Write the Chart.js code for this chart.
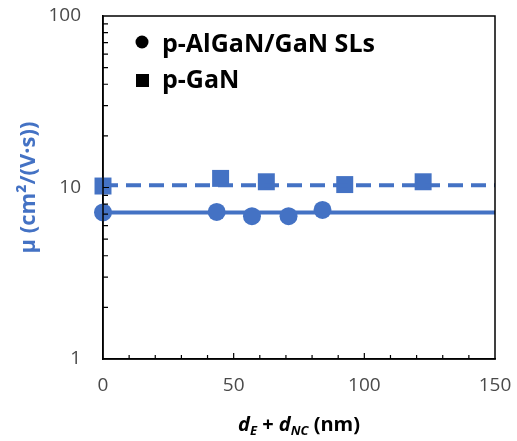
<!DOCTYPE html>
<html>
<head>
<meta charset="utf-8">
<script src="https://cdn.jsdelivr.net/npm/chart.js@4/dist/chart.umd.min.js"></script>
<style>
  html, body { margin: 0; padding: 0; background: #fff; }
  #wrap { width: 517px; height: 441px; }
</style>
</head>
<body>
<div id="wrap"><canvas id="c" width="517" height="441"></canvas></div>
<script>
// data
const slX = [0, 43.5, 57, 71, 84];
const slMu = [7.15, 7.2, 6.8, 6.8, 7.4];
const ganX = [0, 45, 62.5, 92.5, 122.5];
const ganMu = [10.2, 11.3, 10.8, 10.4, 10.8];
const fitX = [0, 150];
const slFit = [7.15, 7.15];
const ganFit = [10.3, 10.3];
const yTicks = [1, 10, 100];
const legendNames = ['p-AlGaN/GaN SLs', 'p-GaN'];

const BLUE = '#4472C4';
const pts = (xs, ys) => xs.map((x, i) => ({x: x, y: ys[i]}));

// frame, inward ticks, legend, x title
const decor = {
  id: 'decor',
  afterDatasetsDraw(chart) {
    const {ctx, chartArea: a, scales: {x, y}} = chart;
    ctx.save();
    ctx.strokeStyle = '#000';
    ctx.lineWidth = 1.5;
    ctx.strokeRect(a.left, a.top, a.right - a.left, a.bottom - a.top);
    ctx.lineWidth = 1.2;
    ctx.beginPath();
    for (let v = 10; v < 150; v += 10) {
      const px = x.getPixelForValue(v);
      const len = v % 50 === 0 ? 6 : 4;
      ctx.moveTo(px, a.bottom);
      ctx.lineTo(px, a.bottom - len);
    }
    for (let d = 1; d <= 10; d *= 10) {
      for (let m = 2; m <= 10; m++) {
        const v = m * d;
        if (v >= 100) continue;
        const py = y.getPixelForValue(v);
        ctx.moveTo(a.left, py);
        ctx.lineTo(a.left + (m === 10 ? 6 : 5), py);
      }
    }
    ctx.stroke();

    // legend
    ctx.fillStyle = '#000';
    ctx.beginPath();
    ctx.arc(142, 42, 6.5, 0, Math.PI * 2);
    ctx.fill();
    ctx.fillRect(136, 74, 13, 13);
    ctx.font = 'bold 25px "Open Sans"';
    ctx.textBaseline = 'alphabetic';
    ctx.textAlign = 'left';
    ctx.fillText(legendNames[0], 162, 52);
    ctx.fillText(legendNames[1], 162, 88);

    // x-axis title with subscripts
    const parts = [
      ['bold italic 20px "Open Sans"', 'd', 0],
      ['bold italic 13px "Open Sans"', 'E', 4],
      ['bold 20px "Open Sans"', ' + ', 0],
      ['bold italic 20px "Open Sans"', 'd', 0],
      ['bold italic 13px "Open Sans"', 'NC', 4],
      ['bold 20px "Open Sans"', ' (nm)', 0]
    ];
    let w = 0;
    parts.forEach(p => { ctx.font = p[0]; w += ctx.measureText(p[1]).width; });
    let cx = (a.left + a.right) / 2 - w / 2;
    ctx.fillStyle = '#000';
    parts.forEach(p => {
      ctx.font = p[0];
      ctx.fillText(p[1], cx, 431 + p[2]);
      cx += ctx.measureText(p[1]).width;
    });
    ctx.restore();
  }
};

new Chart(document.getElementById('c'), {
  type: 'scatter',
  data: {
    datasets: [
      {
        label: 'SL fit', data: pts(fitX, slFit), showLine: true, clip: false,
        borderColor: BLUE, borderWidth: 4, pointRadius: 0, order: 0
      },
      {
        label: 'GaN fit', data: pts(fitX, ganFit), showLine: true, clip: false,
        borderColor: BLUE, borderWidth: 4, borderDash: [15, 8], pointRadius: 0, order: 0
      },
      {
        label: legendNames[0], data: pts(slX, slMu), pointStyle: 'circle', clip: false,
        pointRadius: 9, backgroundColor: BLUE, borderColor: BLUE, borderWidth: 0, order: 1
      },
      {
        label: legendNames[1], data: pts(ganX, ganMu), pointStyle: 'rect', clip: false,
        pointRadius: 12, backgroundColor: BLUE, borderColor: BLUE, borderWidth: 0, order: 1
      }
    ]
  },
  options: {
    animation: false,
    responsive: false,
    layout: { padding: { top: 16, right: 22, left: 0, bottom: 0 } },
    plugins: { legend: { display: false }, tooltip: { enabled: false } },
    scales: {
      x: {
        type: 'linear', min: 0, max: 150,
        grid: { display: false, drawTicks: false },
        border: { color: '#000', width: 1.5 },
        ticks: { stepSize: 50, padding: 15, color: '#4a4a4a', font: { family: 'Open Sans', size: 19 } },
        afterFit: s => { s.height = 82; s.paddingLeft = 0; s.paddingRight = 0; }
      },
      y: {
        type: 'logarithmic', min: 1, max: 100,
        grid: { display: false, drawTicks: false },
        border: { color: '#000', width: 1.5 },
        afterBuildTicks: s => { s.ticks = yTicks.map(v => ({value: v})); },
        ticks: {
          padding: 22, color: '#4a4a4a', font: { family: 'Open Sans', size: 19 },
          callback: v => String(v)
        },
        title: {
          display: true, text: 'μ (cm²/(V·s))', color: BLUE,
          font: { family: 'Open Sans', size: 22, weight: 'bold' }, padding: { top: 16, bottom: 0 }
        },
        afterFit: s => { s.width = 103; s.paddingTop = 0; s.paddingBottom = 0; }
      }
    }
  },
  plugins: [decor]
});
</script>
</body>
</html>
